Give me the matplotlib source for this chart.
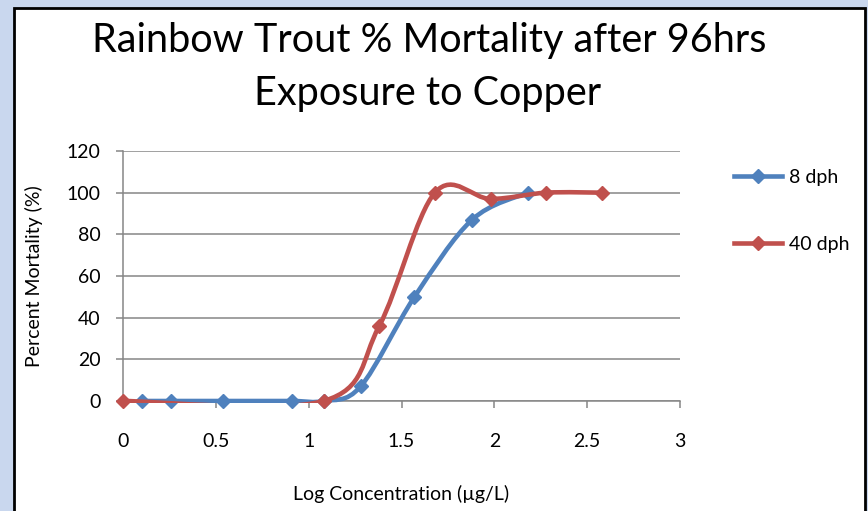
import matplotlib
matplotlib.use("Agg")
import matplotlib.pyplot as plt
from matplotlib.path import Path
from matplotlib.patches import PathPatch, Rectangle
from matplotlib.lines import Line2D

# data
log_conc_8dph = [0.10, 0.26, 0.54, 0.91, 1.08, 1.28, 1.57, 1.88, 2.18]
mort_8dph = [0, 0, 0, 0, 0, 7, 50, 87, 100]
log_conc_40dph = [0.0, 1.08, 1.38, 1.68, 1.98, 2.28, 2.58]
mort_40dph = [0, 0, 36, 100, 97, 100, 100]
series_names = ["8 dph", "40 dph"]
x_ticks = [0, 0.5, 1, 1.5, 2, 2.5, 3]
y_ticks = [0, 20, 40, 60, 80, 100, 120]

BLUE = "#4F81BD"
RED = "#C0504D"
GRID = "#868686"

plt.rcParams["font.family"] = ["Lato", "DejaVu Sans"]


def smooth_path(xs, ys):
    # excel style smoothed line: bezier segments through every point
    pts = list(zip(xs, ys))
    n = len(pts)
    verts = [pts[0]]
    codes = [Path.MOVETO]
    for i in range(n - 1):
        p0 = pts[i - 1] if i > 0 else pts[i]
        p1 = pts[i]
        p2 = pts[i + 1]
        p3 = pts[i + 2] if i + 2 < n else pts[i + 1]
        c1 = (p1[0] + (p2[0] - p0[0]) / 6, p1[1] + (p2[1] - p0[1]) / 6)
        c2 = (p2[0] - (p3[0] - p1[0]) / 6, p2[1] - (p3[1] - p1[1]) / 6)
        verts += [c1, c2, p2]
        codes += [Path.CURVE4] * 3
    return Path(verts, codes)


fig = plt.figure(figsize=(8.68, 5.11), dpi=100)
fig.patch.set_facecolor("#c9d7ee")

# white chart box with black frame
box = Rectangle((14 / 868, -0.05), (865 - 14) / 868, (511 - 8) / 511 + 0.05,
                transform=fig.transFigure, facecolor="white",
                edgecolor="black", linewidth=2, zorder=-5)
fig.patches.append(box)

ax = fig.add_axes([123 / 868, 110 / 511, (680 - 123) / 868, 250 / 511])
ax.set_facecolor("none")
ax.set_xlim(0, 3)
ax.set_ylim(0, 120)

clip = Rectangle((0, -0.008), 1, 1.1, transform=ax.transAxes)

LW = 3.3
MS = 7.5
for xs, ys, col in [(log_conc_8dph, mort_8dph, BLUE),
                    (log_conc_40dph, mort_40dph, RED)]:
    pp = PathPatch(smooth_path(xs, ys), facecolor="none", edgecolor=col,
                   linewidth=LW, capstyle="round", joinstyle="round", zorder=3)
    ax.add_patch(pp)
    pp.set_clip_path(clip)
    ax.plot(xs, ys, linestyle="none", marker="D", markersize=MS,
            color=col, clip_on=False, zorder=3)

ax.set_xticks(x_ticks)
ax.set_xticklabels(["0", "0.5", "1", "1.5", "2", "2.5", "3"])
ax.set_yticks(y_ticks)
ax.grid(axis="y", color=GRID, linewidth=1.1)
ax.set_axisbelow(True)
for s in ["top", "right"]:
    ax.spines[s].set_visible(False)
for s in ["left", "bottom"]:
    ax.spines[s].set_color(GRID)
    ax.spines[s].set_linewidth(1.1)
ax.tick_params(axis="both", direction="out", length=5, width=1.1,
               color=GRID, labelsize=14, labelcolor="black")
ax.tick_params(axis="x", pad=18)
ax.tick_params(axis="y", pad=11)

ax.set_xlabel("Log Concentration (\u00b5g/L)", fontsize=14, labelpad=25)
ax.set_ylabel("Percent Mortality (%)", fontsize=14, labelpad=17)

fig.text(0.494, 0.921, "Rainbow Trout % Mortality after 96hrs",
         ha="center", va="center", fontsize=28.5)
fig.text(0.493, 0.818, "Exposure to Copper",
         ha="center", va="center", fontsize=28.5)

handles = [Line2D([], [], color=BLUE, lw=LW, marker="D", markersize=MS),
           Line2D([], [], color=RED, lw=LW, marker="D", markersize=MS)]
fig.legend(handles, series_names, loc="upper left",
           bbox_to_anchor=(716 / 868, 1 - 151 / 511), frameon=False,
           fontsize=14, handlelength=2.5, handletextpad=0.35,
           labelspacing=2.6)

fig.savefig("out.png", dpi=100, facecolor=fig.get_facecolor())
